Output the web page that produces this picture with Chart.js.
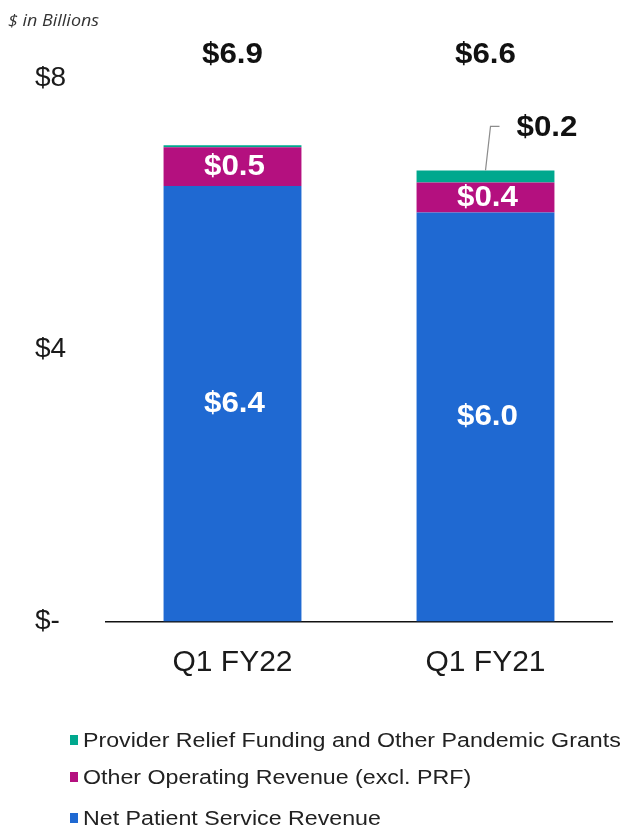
<!DOCTYPE html>
<html>
<head>
<meta charset="utf-8">
<script src="https://cdn.jsdelivr.net/npm/chart.js@4.4.1/dist/chart.umd.min.js"></script>
<style>
  html, body { margin: 0; padding: 0; background: #fff; }
  #wrap { position: relative; width: 627px; height: 828px; }
  #unit { position: absolute; left: 8px; top: 9px; font: italic 16px "Open Sans", sans-serif; color: #333; transform: scaleX(1.12); transform-origin: left center; white-space: nowrap; }
  .sq { position: absolute; left: 70px; width: 8px; height: 10px; }
  .leg { position: absolute; left: 83px; font: 20px "Liberation Sans", Arial, sans-serif; color: #222; white-space: nowrap; line-height: 22px; transform: scaleX(1.16); transform-origin: left center; }
</style>
</head>
<body>
<div id="wrap">
  <canvas id="c"></canvas>
  <div id="unit">$ in Billions</div>
  <div id="legend"></div>
</div>
<script>
const categories = ["Q1 FY22", "Q1 FY21"];
const npsrValues = [6.41, 6.02];
const otherValues = [0.57, 0.44];
const prfValues = [0.03, 0.18];
const npsrLabels = ["$6.4", "$6.0"];
const otherLabels = ["$0.5", "$0.4"];
const prfLabels = [null, "$0.2"];
const totalLabels = ["$6.9", "$6.6"];
const yTicks = [0, 4, 8];
const seriesNames = ["Net Patient Service Revenue", "Other Operating Revenue (excl. PRF)", "Provider Relief Funding and Other Pandemic Grants"];
const colors = ["#1F69D2", "#B4107F", "#00A88E"];

function stretchText(ctx, text, x, y, sx) {
  ctx.save();
  ctx.translate(x, y);
  ctx.scale(sx, 1);
  ctx.fillText(text, 0, 0);
  ctx.restore();
}

const labelPlugin = {
  id: 'labels',
  afterDatasetsDraw(chart) {
    const ctx = chart.ctx;
    const yScale = chart.scales.y;
    const m0 = chart.getDatasetMeta(0).data;
    const m1 = chart.getDatasetMeta(1).data;
    const m2 = chart.getDatasetMeta(2).data;
    ctx.save();
    ctx.textAlign = 'center';
    ctx.textBaseline = 'middle';
    ctx.font = 'bold 29px "Liberation Sans", Arial, sans-serif';
    ctx.fillStyle = '#ffffff';
    [[m0, npsrLabels], [m1, otherLabels]].forEach(([meta, labs]) => {
      meta.forEach((bar, i) => {
        if (!labs[i]) return;
        stretchText(ctx, labs[i], bar.x + 2, (bar.y + bar.base) / 2, 1.08);
      });
    });
    ctx.fillStyle = '#111111';
    m2.forEach((bar, i) => {
      stretchText(ctx, totalLabels[i], bar.x, yScale.getPixelForValue(8) - 23, 1.08);
    });
    m2.forEach((bar, i) => {
      if (!prfLabels[i]) return;
      const top = bar.y;
      ctx.strokeStyle = '#8c8c8c';
      ctx.lineWidth = 1.2;
      ctx.beginPath();
      ctx.moveTo(bar.x, top);
      ctx.lineTo(bar.x + 5, top - 44);
      ctx.lineTo(bar.x + 14, top - 44);
      ctx.stroke();
      ctx.textAlign = 'left';
      ctx.fillStyle = '#111111';
      stretchText(ctx, prfLabels[i], bar.x + 31, top - 42, 1.08);
    });
    ctx.restore();
  }
};

new Chart(document.getElementById('c'), {
  type: 'bar',
  data: {
    labels: categories,
    datasets: [
      { label: seriesNames[0], data: npsrValues, backgroundColor: colors[0] },
      { label: seriesNames[1], data: otherValues, backgroundColor: colors[1] },
      { label: seriesNames[2], data: prfValues, backgroundColor: colors[2] }
    ]
  },
  options: {
    responsive: true,
    maintainAspectRatio: false,
    animation: false,
    events: [],
    layout: { padding: { top: 78, left: 35, right: 15, bottom: 0 } },
    datasets: { bar: { categoryPercentage: 1, barPercentage: 0.545, borderWidth: 0 } },
    plugins: { legend: { display: false }, tooltip: { enabled: false } },
    scales: {
      x: {
        stacked: true,
        grid: { display: false, drawTicks: false },
        border: { display: true, color: '#111', width: 1.5 },
        ticks: { color: '#1a1a1a', font: { family: '"Liberation Sans", Arial, sans-serif', size: 30 }, padding: 23, maxRotation: 0 },
        afterFit(s) { s.height = 206.5; }
      },
      y: {
        stacked: true,
        min: 0, max: 8,
        afterBuildTicks(s) { s.ticks = yTicks.map(v => ({ value: v })); },
        grid: { display: false, drawTicks: false },
        border: { display: false },
        ticks: {
          crossAlign: 'far',
          color: '#1a1a1a',
          font: { family: '"Liberation Sans", Arial, sans-serif', size: 28 },
          callback: v => v === 0 ? '$-' : '$' + v
        },
        afterFit(s) { s.width = 71; }
      }
    }
  },
  plugins: [labelPlugin]
});

const legend = document.getElementById('legend');
const tops = [729, 766, 807];
[2, 1, 0].forEach((idx, k) => {
  const sq = document.createElement('div');
  sq.className = 'sq';
  sq.style.top = (tops[k] + 6) + 'px';
  sq.style.background = colors[idx];
  legend.appendChild(sq);
  const d = document.createElement('div');
  d.className = 'leg';
  d.style.top = tops[k] + 'px';
  d.textContent = seriesNames[idx];
  legend.appendChild(d);
});
</script>
</body>
</html>
